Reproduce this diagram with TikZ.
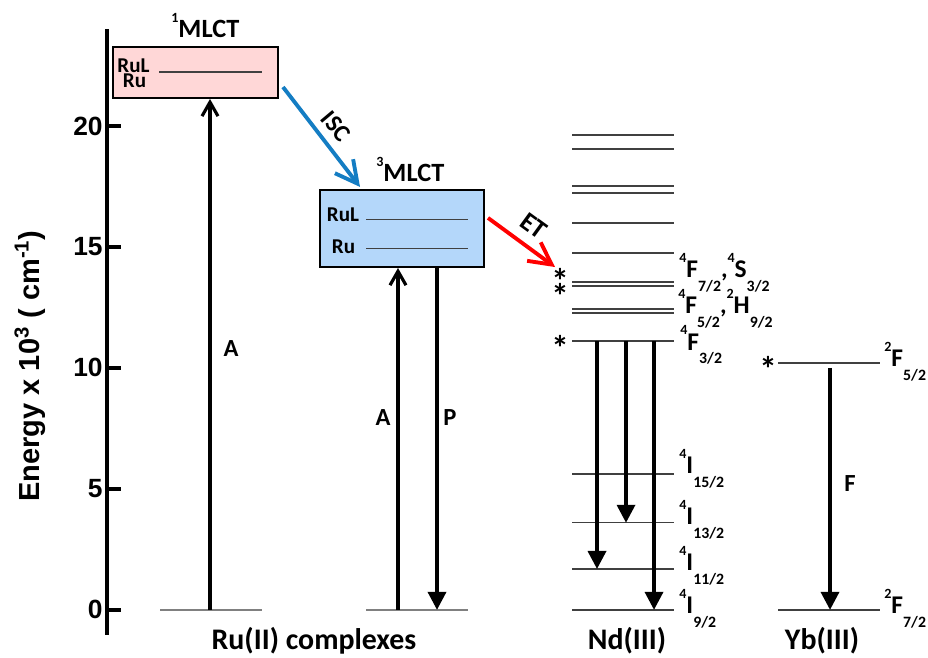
\documentclass[tikz,border=0pt]{standalone}
\usepackage{fontspec}
\setmainfont{Carlito}
\newfontfamily\arialfont{Liberation Sans}
\usetikzlibrary{arrows.meta,positioning}

\definecolor{singpink}{RGB}{255,215,215}
\definecolor{tripblue}{RGB}{180,215,250}
\definecolor{iscblue}{RGB}{20,125,195}

\newcommand{\setsize}[1]{\fontsize{#1}{#1}\selectfont}
\newcommand{\term}[3]{\raisebox{9pt}{\setsize{8}#1}#2\raisebox{-7.5pt}{\setsize{9}#3}}

\tikzset{
  enlevel/.style={line width=0.8pt, black!75},
  ground/.style={line width=1pt, gray},
  absarrow/.style={line width=1.8pt, -{Straight Barb[length=2.8mm,width=3.2mm]}},
  emarrow/.style={line width=2pt, -{Triangle[length=3.6mm,width=3.6mm]}},
  transfer/.style={line width=2.2pt, -{Straight Barb[length=4.4mm,width=4.6mm]}},
  mlctbox/.style={draw, line width=1.1pt, inner sep=0pt},
  boxtext/.style={anchor=base, inner sep=0pt, font=\bfseries\setsize{12}},
  termlabel/.style={anchor=base west, inner sep=0pt, font=\bfseries\setsize{14.5}},
  astk/.style={anchor=base, inner sep=0pt, yshift=-10.5pt, font=\bfseries\setsize{20}},
  proc/.style={font=\bfseries\setsize{14}},
  group/.style={anchor=base, font=\bfseries\setsize{17}}
}

\begin{document}
\begin{tikzpicture}[x=0.02cm, y=0.484cm]
  \useasboundingbox (0,-1.983) rectangle (928,25.207);

  % --- energy axis ---
  \draw[line width=1.9pt] (107,-1.03) -- (107,24.01);
  \foreach \e in {0,5,...,20} {
    \draw[line width=1.9pt] (107,\e) -- (121,\e);
    \node[anchor=east, inner sep=0pt, font=\arialfont\bfseries\setsize{15}] (tick\e) at (103,\e) {\e};
  }
  \node[rotate=90, font=\arialfont\bfseries\setsize{16.5}] (ylabel) at (30,10.08)
    {Energy x 10\textsuperscript{3} ( cm\textsuperscript{-1})};

  % --- Ru(II) complexes ---
  \draw[ground] (160,0) coordinate (g1w) -- (262,0);
  \draw[ground] (366,0) coordinate (g2w) -- (468,0);

  \node[mlctbox, fill=singpink, minimum width=3.3cm, minimum height=1.02cm] (s1box) at (195.5,22.21) {};
  \draw[line width=0.6pt, black!75] (159,22.23) -- (262,22.23);
  \node[boxtext] (rul1) at (133.5,22.23) {RuL};
  \node[boxtext] (ru1) at (134.5,21.61) {Ru};
  \node[termlabel, font=\bfseries\setsize{15}] (s1name) at (171,23.64) {\term{1}{MLCT}{}};

  \node[mlctbox, fill=tripblue, minimum width=3.28cm, minimum height=1.54cm] (s2box) at (402,15.76) {};
  \draw[line width=0.6pt, black!75] (366,16.12) -- (468,16.12);
  \draw[line width=0.6pt, black!75] (366,14.92) -- (468,14.92);
  \node[boxtext] (rul2) at (343,16.07) {RuL};
  \node[boxtext] (ru2) at (343.5,14.71) {Ru};
  \node[termlabel, font=\bfseries\setsize{15}] (s2name) at (376,17.69) {\term{3}{MLCT}{}};

  \draw[absarrow] (210,0 |- g1w) -- (210,0 |- s1box.south);
  \node[proc] (abs1) at (231,10.79) {A};
  \draw[absarrow] (398,0 |- g2w) -- (398,0 |- s2box.south);
  \node[proc] (abs2) at (383,7.93) {A};
  \draw[emarrow] (437,0 |- s2box.south) -- (437,0 |- g2w);
  \node[proc] (phos) at (450,7.93) {P};

  % --- ISC and ET ---
  \coordinate (iscA) at (283,21.61);
  \coordinate (iscB) at (360,17.48);
  \draw[transfer, iscblue] (iscA) -- (iscB);
  \node[rotate=-50, inner sep=1pt, font=\bfseries\setsize{14}] (isc) at (336,19.98) {ISC};

  \coordinate (etA) at (488,16.20);
  \coordinate (etB) at (555,14.17);
  \draw[transfer, red] (etA) -- (etB);
  \node[rotate=-36, inner sep=1pt, font=\bfseries\setsize{15}] (et) at (534,15.87) {ET};

  % --- Nd(III) ---
  \foreach \e/\n in {19.63/n1,19.05/n2,17.52/n3,17.23/n4,15.99/n5,14.75/n6,13.55/n7,13.39/n8,
                     12.44/n9,12.27/n10,11.12/f32,5.62/i152,3.60/i132,1.69/i112,0/i92}
    \draw[enlevel] (572,\e) coordinate (\n) -- (674,\e);

  \node[astk] (st1) at (560,13.82) {*};
  \node[astk] (st2) at (560,13.20) {*};
  \node[astk] (st3) at (560,11.07) {*};

  \draw[emarrow] (597,0 |- f32) -- (597,0 |- i112);
  \draw[emarrow] (626,0 |- f32) -- (626,0 |- i132);
  \draw[emarrow] (654,0 |- f32) -- (654,0 |- i92);

  \node[termlabel] (lf72) at (679,13.72) {\term{4}{F}{7/2},\term{4}{S}{3/2}};
  \node[termlabel] (lf52) at (678,12.23) {\term{4}{F}{5/2},\term{2}{H}{9/2}};
  \node[termlabel] (lf32) at (680,10.74) {\term{4}{F}{3/2}};
  \node[termlabel] (li152) at (679,5.62) {\term{4}{I}{15/2}};
  \node[termlabel] (li132) at (679,3.51) {\term{4}{I}{13/2}};
  \node[termlabel] (li112) at (679,1.61) {\term{4}{I}{11/2}};
  \node[termlabel] (li92) at (679,-0.17) {\term{4}{I}{9/2}};

  % --- Yb(III) ---
  \draw[enlevel] (778,10.21) coordinate (yb52) -- (880,10.21);
  \draw[enlevel] (778,0) coordinate (yb72) -- (880,0);
  \node[astk] (st4) at (768,10.21) {*};
  \draw[emarrow] (830,10.0) -- (830,0 |- yb72);
  \node[proc] (fluo) at (850,5.21) {F};
  \node[termlabel] (lyb52) at (884,10.04) {\term{2}{F}{5/2}};
  \node[termlabel] (lyb72) at (884,-0.17) {\term{2}{F}{7/2}};

  % --- group names ---
  \node[group] (runame) at (314,-1.65) {Ru(II) complexes};
  \node[group] (ndname) at (627,-1.65) {Nd(III)};
  \node[group] (ybname) at (822,-1.65) {Yb(III)};
\end{tikzpicture}
\end{document}
